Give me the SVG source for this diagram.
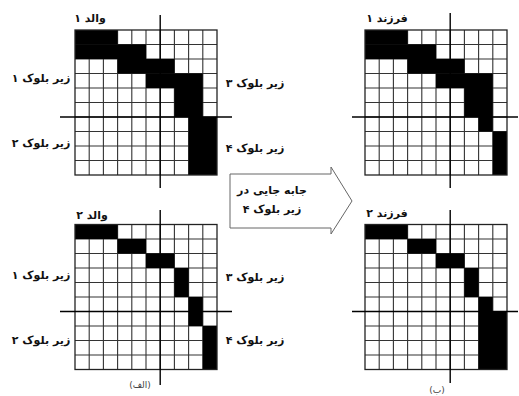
<svg xmlns="http://www.w3.org/2000/svg" xmlns:xlink="http://www.w3.org/1999/xlink" width="519" height="396" viewBox="0 0 519 396">
<style>
.bg{fill:#fff}
.cell{fill:#000}
.gl{fill:none;stroke:#333;stroke-width:1.1}
.border{fill:none;stroke:#222;stroke-width:1.3}
.cross{stroke:#000;stroke-width:1.4}
.lbl{font-family:"DejaVu Sans","Noto Sans",sans-serif;font-weight:bold;font-size:11px;fill:#111;text-anchor:middle}
.cap{font-family:"DejaVu Sans","Noto Sans",sans-serif;font-size:9px;fill:#444;text-anchor:middle}
.arrow{fill:#fff;stroke:#666;stroke-width:1}
</style>
<defs>
<path id="lines" class="gl" d="M14.2 0V145M28.4 0V145M42.6 0V145M56.8 0V145M71 0V145M85.2 0V145M99.4 0V145M113.6 0V145M127.8 0V145M0 14.5H142M0 29H142M0 43.5H142M0 58H142M0 72.5H142M0 87H142M0 101.5H142M0 116H142M0 130.5H142"/>
</defs>
<rect width="519" height="396" fill="#fff"/>

<g id="parent1" transform="translate(75,30)">
<rect class="bg" width="142" height="145"/>
<use xlink:href="#lines"/>
<rect class="cell" x="0" y="0" width="42.6" height="14.5"/>
<rect class="cell" x="0" y="14.5" width="71" height="14.5"/>
<rect class="cell" x="42.6" y="29" width="56.8" height="14.5"/>
<rect class="cell" x="71" y="43.5" width="56.8" height="14.5"/>
<rect class="cell" x="99.4" y="58" width="28.4" height="29"/>
<rect class="cell" x="113.6" y="87" width="28.4" height="58"/>
<rect class="border" width="142" height="145"/>
<line class="cross" x1="85.2" y1="-15" x2="85.2" y2="158"/>
<line class="cross" x1="-15" y1="87" x2="157" y2="87"/>
<text class="lbl" x="15" y="-8">والد ۱</text>
<text class="lbl" x="-34" y="52">زیر بلوک ۱</text>
<text class="lbl" x="-34" y="117">زیر بلوک ۲</text>
<text class="lbl" x="180" y="57">زیر بلوک ۳</text>
<text class="lbl" x="180" y="122">زیر بلوک ۴</text>
</g>

<g id="parent2" transform="translate(75,224.5)">
<rect class="bg" width="142" height="145"/>
<use xlink:href="#lines"/>
<rect class="cell" x="0" y="0" width="42.6" height="14.5"/>
<rect class="cell" x="42.6" y="14.5" width="28.4" height="14.5"/>
<rect class="cell" x="71" y="29" width="28.4" height="14.5"/>
<rect class="cell" x="99.4" y="43.5" width="14.2" height="29"/>
<rect class="cell" x="113.6" y="72.5" width="14.2" height="29"/>
<rect class="cell" x="127.8" y="101.5" width="14.2" height="43.5"/>
<rect class="border" width="142" height="145"/>
<line class="cross" x1="85.2" y1="-14.5" x2="85.2" y2="160.5"/>
<line class="cross" x1="-15" y1="87" x2="157" y2="87"/>
<text class="lbl" x="17" y="-6">والد ۲</text>
<text class="lbl" x="-34" y="54.5">زیر بلوک ۱</text>
<text class="lbl" x="-34" y="119.5">زیر بلوک ۲</text>
<text class="lbl" x="180" y="56.5">زیر بلوک ۳</text>
<text class="lbl" x="180" y="119.5">زیر بلوک ۴</text>
<text class="cap" x="65" y="163.5">(الف)</text>
</g>

<g id="child1" transform="translate(365,30)">
<rect class="bg" width="142" height="145"/>
<use xlink:href="#lines"/>
<rect class="cell" x="0" y="0" width="42.6" height="14.5"/>
<rect class="cell" x="0" y="14.5" width="71" height="14.5"/>
<rect class="cell" x="42.6" y="29" width="56.8" height="14.5"/>
<rect class="cell" x="71" y="43.5" width="56.8" height="14.5"/>
<rect class="cell" x="99.4" y="58" width="28.4" height="29"/>
<rect class="cell" x="113.6" y="87" width="14.2" height="14.5"/>
<rect class="cell" x="127.8" y="101.5" width="14.2" height="43.5"/>
<rect class="border" width="142" height="145"/>
<line class="cross" x1="85.2" y1="-17" x2="85.2" y2="158"/>
<line class="cross" x1="-13" y1="87" x2="153" y2="87"/>
<text class="lbl" x="22" y="-8">فرزند ۱</text>
</g>

<g id="child2" transform="translate(365,224.5)">
<rect class="bg" width="142" height="145"/>
<use xlink:href="#lines"/>
<rect class="cell" x="0" y="0" width="42.6" height="14.5"/>
<rect class="cell" x="42.6" y="14.5" width="28.4" height="14.5"/>
<rect class="cell" x="71" y="29" width="28.4" height="14.5"/>
<rect class="cell" x="99.4" y="43.5" width="14.2" height="29"/>
<rect class="cell" x="113.6" y="72.5" width="14.2" height="14.5"/>
<rect class="cell" x="113.6" y="87" width="28.4" height="58"/>
<rect class="border" width="142" height="145"/>
<line class="cross" x1="85.2" y1="-14.5" x2="85.2" y2="158.5"/>
<line class="cross" x1="-13" y1="87" x2="153" y2="87"/>
<text class="lbl" x="22" y="-7.5">فرزند ۲</text>
<text class="cap" x="72" y="168.5">(ب)</text>
</g>

<g id="connectors">
<g id="swap-arrow">
<polygon class="arrow" points="230,174 331,174 331,167 352,201 331,234 331,228 230,228"/>
<text class="lbl" x="272" y="194">جابه جایی در</text>
<text class="lbl" x="272" y="213">زیر بلوک ۴</text>
</g>
</g>
</svg>
